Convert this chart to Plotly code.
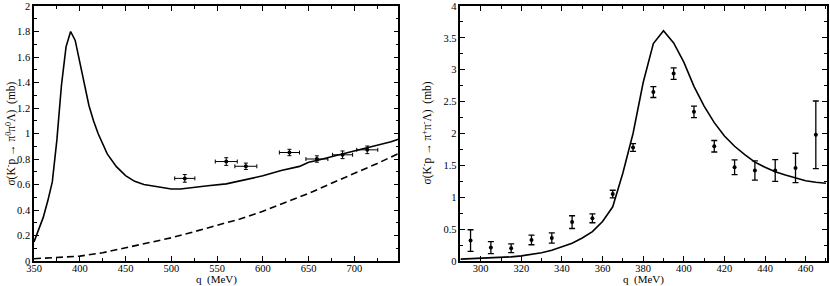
import plotly.graph_objects as go

# ---------- Left panel: K- p -> pi0 pi0 Lambda ----------
q_left_curve = [350, 355, 360, 365, 370, 375, 380, 385, 390, 395, 400, 405, 410, 415, 420,
                430, 440, 450, 460, 470, 480, 490, 500, 510, 520, 530, 540, 560, 580, 600,
                620, 640, 650, 660, 680, 700, 720, 740, 748]
sigma_left_full = [0.15, 0.24, 0.34, 0.47, 0.62, 0.95, 1.38, 1.68, 1.80, 1.73, 1.55, 1.38, 1.22, 1.10, 1.00,
                   0.84, 0.74, 0.67, 0.625, 0.60, 0.59, 0.575, 0.565, 0.565, 0.572, 0.578, 0.59, 0.605, 0.635, 0.668,
                   0.71, 0.742, 0.775, 0.79, 0.828, 0.862, 0.90, 0.935, 0.955]
q_left_dash = [350, 375, 400, 425, 450, 475, 500, 525, 550, 575, 600, 625, 650, 675, 700, 725, 748]
sigma_left_dash = [0.018, 0.025, 0.038, 0.065, 0.105, 0.145, 0.182, 0.23, 0.28, 0.33, 0.39, 0.46,
                   0.53, 0.61, 0.685, 0.765, 0.843]
q_left_data = [514.7, 560, 581.4, 629, 659, 687, 714]
sigma_left_data = [0.648, 0.78, 0.743, 0.851, 0.80, 0.833, 0.872]
q_left_err = [11, 12, 12, 11, 12, 11, 11.5]
sigma_left_err = [0.03, 0.03, 0.025, 0.025, 0.025, 0.03, 0.03]

# ---------- Right panel: K- p -> pi+ pi- Lambda ----------
q_right_curve = [290, 295, 300, 305, 310, 315, 320, 325, 330, 335, 340, 345, 350, 355, 360, 365,
                 370, 375, 380, 385, 390, 395, 400, 405, 410, 415, 420, 425, 430, 435, 440, 445,
                 450, 455, 460, 465, 470]
sigma_right_curve = [0.03, 0.035, 0.04, 0.045, 0.055, 0.065, 0.08, 0.10, 0.13, 0.17, 0.22, 0.28,
                     0.36, 0.46, 0.62, 0.85, 1.38, 2.0, 2.8, 3.41, 3.61, 3.42, 3.12, 2.74, 2.43, 2.17,
                     1.96, 1.80, 1.67, 1.55, 1.47, 1.40, 1.35, 1.30, 1.26, 1.235, 1.22]
q_right_data = [295, 305, 315, 325, 335, 345, 355, 365, 375, 385, 395, 405, 415, 425, 435, 445, 455, 465]
sigma_right_data = [0.32, 0.21, 0.20, 0.33, 0.36, 0.61, 0.67, 1.05, 1.78, 2.65, 2.94, 2.34, 1.80,
                    1.47, 1.42, 1.42, 1.46, 1.98]
sigma_right_err = [0.17, 0.095, 0.07, 0.075, 0.08, 0.10, 0.07, 0.06, 0.06, 0.085, 0.09, 0.09, 0.09,
                   0.115, 0.15, 0.17, 0.23, 0.53]

fig = go.Figure()

line_style = dict(color="black", width=1.6)

fig.add_trace(go.Scatter(x=q_left_curve, y=sigma_left_full, mode="lines", line=line_style,
                         xaxis="x", yaxis="y", showlegend=False))
fig.add_trace(go.Scatter(x=q_left_dash, y=sigma_left_dash, mode="lines",
                         line=dict(color="black", width=1.6, dash="7px,4px"),
                         xaxis="x", yaxis="y", showlegend=False))
fig.add_trace(go.Scatter(x=q_left_data, y=sigma_left_data, mode="markers",
                         marker=dict(color="black", size=4),
                         error_x=dict(type="data", array=q_left_err, color="black", thickness=1, width=2),
                         error_y=dict(type="data", array=sigma_left_err, color="black", thickness=1, width=2),
                         xaxis="x", yaxis="y", showlegend=False))

fig.add_trace(go.Scatter(x=q_right_curve, y=sigma_right_curve, mode="lines", line=line_style,
                         xaxis="x2", yaxis="y2", showlegend=False))
fig.add_trace(go.Scatter(x=q_right_data, y=sigma_right_data, mode="markers",
                         marker=dict(color="black", size=4),
                         error_y=dict(type="data", array=sigma_right_err, color="black", thickness=1.3, width=3),
                         xaxis="x2", yaxis="y2", showlegend=False))

SERIF = "Times New Roman, Liberation Serif, DejaVu Serif, serif"
tickfont = dict(family=SERIF, size=10.5, color="black")
axis_common = dict(showgrid=False, zeroline=False, showline=True, linecolor="black", linewidth=1.5,
                   mirror="ticks", ticks="inside", ticklen=5, tickwidth=1, tickcolor="black",
                   tickfont=tickfont, ticklabeloverflow="allow")

fig.update_layout(
    width=830, height=286,
    margin=dict(l=34, r=1, t=5, b=25),
    paper_bgcolor="white", plot_bgcolor="white",
    font=dict(family=SERIF, color="black"),
    xaxis=dict(domain=[0, 0.4595], range=[350, 748], dtick=50, tick0=350,
               minor=dict(dtick=25, ticks="inside", ticklen=3, tickcolor="black"),
               anchor="y", ticklabelstandoff=-3, **axis_common),
    yaxis=dict(domain=[0, 1], range=[0, 2], dtick=0.2, tick0=0,
               minor=dict(dtick=0.1, ticks="inside", ticklen=3, tickcolor="black"),
               anchor="x", **axis_common),
    xaxis2=dict(domain=[0.5377, 1], range=[290, 470.5], dtick=20, tick0=300,
                minor=dict(dtick=10, ticks="inside", ticklen=3, tickcolor="black"),
                anchor="y2", ticklabelstandoff=-3, **axis_common),
    yaxis2=dict(domain=[0, 1], range=[0, 4], dtick=0.5, tick0=0,
                minor=dict(dtick=0.25, ticks="inside", ticklen=3, tickcolor="black"),
                anchor="x2", **axis_common),
)

title_font = dict(family=SERIF, size=11.5, color="black")
fig.add_annotation(text="σ(K<sup>-</sup>p → π<sup>0</sup>π<sup>0</sup>Λ)  (mb)",
                   xref="paper", yref="paper", x=-0.0289, y=0.5, textangle=-90,
                   xanchor="center", yanchor="middle", showarrow=False, font=title_font)
fig.add_annotation(text="σ(K<sup>-</sup>p → π<sup>+</sup>π<sup>-</sup>Λ)  (mb)",
                   xref="paper", yref="paper", x=0.4956, y=0.5, textangle=-90,
                   xanchor="center", yanchor="middle", showarrow=False, font=title_font)
fig.add_annotation(text="q  (MeV)", xref="paper", yref="paper", x=0.2297, y=-0.072,
                   xanchor="center", yanchor="middle", showarrow=False,
                   font=dict(family=SERIF, size=11, color="black"))
fig.add_annotation(text="q  (MeV)", xref="paper", yref="paper", x=0.7689, y=-0.072,
                   xanchor="center", yanchor="middle", showarrow=False,
                   font=dict(family=SERIF, size=11, color="black"))

fig.write_html("out.html", config={"displayModeBar": False},
               post_script="document.body.style.margin='0px';document.body.style.padding='0px';")
